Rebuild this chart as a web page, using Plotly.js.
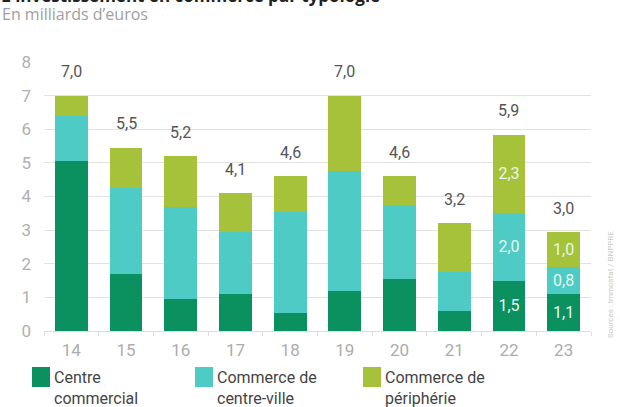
<!DOCTYPE html>
<html>
<head>
<meta charset="utf-8">
<script src="https://cdn.plot.ly/plotly-3.0.1.min.js"></script>
<style>html,body{margin:0;padding:0;background:#fff;}#chart{width:620px;height:407px;}</style>
</head>
<body>
<div id="chart"></div>
<script>
const years = ['14', '15', '16', '17', '18', '19', '20', '21', '22', '23'];
const centreCommercial = [5.05, 1.7, 0.95, 1.1, 0.55, 1.2, 1.55, 0.6, 1.5, 1.1];
const centreVille = [1.35, 2.55, 2.75, 1.85, 3.0, 3.55, 2.2, 1.15, 2.0, 0.8];
const peripherie = [0.6, 1.2, 1.5, 1.15, 1.05, 2.25, 0.85, 1.45, 2.34, 1.04];
const totals = [7.0, 5.5, 5.2, 4.1, 4.6, 7.0, 4.6, 3.2, 5.9, 3.0];
const labeledYears = ['22', '23'];
const seriesNames = ['Centre<br>commercial', 'Commerce de<br>centre-ville', 'Commerce de<br>périphérie'];
const colors = ['#0b9160', '#4fcbc5', '#a6c23a'];

const FONT = 'Roboto, "Open Sans", sans-serif';
const FONT2 = '"Open Sans", Roboto, sans-serif';
const fmt = v => v.toFixed(1).replace('.', ',');
const insideText = vals => vals.map((v, i) => labeledYears.includes(years[i]) ? fmt(v) : '');

const seriesVals = [centreCommercial, centreVille, peripherie];
const traces = seriesVals.map((vals, k) => ({
  type: 'bar',
  x: years,
  y: vals,
  name: seriesNames[k],
  marker: {color: colors[k], line: {width: 0}},
  text: insideText(vals),
  textposition: 'inside',
  insidetextanchor: 'middle',
  textangle: 0,
  constraintext: 'none',
  textfont: {family: FONT, size: 16, color: '#e6f7ee'},
  hoverinfo: 'skip',
  showlegend: false
}));

const stackTop = years.map((_, i) => centreCommercial[i] + centreVille[i] + peripherie[i]);

// plot area geometry helpers (paper coords)
const L = 44, R = 591, T = 62, B = 331, W = 620, H = 407;
const px = x => (x - L) / (R - L);
const py = y => 1 - (y - T) / (B - T);

// category axis: numeric-looking names are addressed by index for annotations
const annotations = years.map((yr, i) => ({
  x: i, y: stackTop[i], xref: 'x', yref: 'y',
  text: fmt(totals[i]), showarrow: false,
  yanchor: 'middle', yshift: 24,
  font: {family: FONT, size: 16, color: '#555555'}
}));

annotations.push({
  xref: 'paper', yref: 'paper', x: px(-1), y: py(-5), xanchor: 'left', yanchor: 'middle',
  text: "<b>L'investissement en commerce par typologie</b>", showarrow: false,
  font: {family: FONT2, size: 17, color: '#222222'}
});
annotations.push({
  xref: 'paper', yref: 'paper', x: px(0), y: py(14), xanchor: 'left', yanchor: 'middle',
  text: "En milliards d’euros", showarrow: false,
  font: {family: FONT2, size: 16, color: '#a0a0a0'}
});
annotations.push({
  xref: 'paper', yref: 'paper', x: px(610), y: py(285), xanchor: 'center', yanchor: 'middle',
  text: "Sources : Immostat / BNPPRE", showarrow: false, textangle: -90,
  font: {family: FONT, size: 8, color: '#c8c8c8'}
});

const legendX = [32, 195, 363];
const shapes = [];
seriesNames.forEach((n, k) => {
  shapes.push({type: 'rect', xref: 'paper', yref: 'paper',
    x0: px(legendX[k]), x1: px(legendX[k] + 18), y0: py(367), y1: py(387),
    fillcolor: colors[k], line: {width: 0}});
  annotations.push({
    xref: 'paper', yref: 'paper', x: px(legendX[k] + 20), y: py(388), xanchor: 'left', yanchor: 'middle',
    text: n, showarrow: false, align: 'left',
    font: {family: FONT, size: 16, color: '#444444'}
  });
});

const layout = {
  width: W, height: H,
  margin: {l: L, r: W - R, t: T, b: H - B, pad: 0},
  paper_bgcolor: '#ffffff', plot_bgcolor: '#ffffff',
  barmode: 'stack', bargap: 0.4,
  font: {family: FONT},
  xaxis: {
    type: 'category', range: [-0.5, years.length - 0.5],
    showgrid: false, zeroline: false,
    showline: true, linecolor: '#dddddd', linewidth: 1,
    ticks: 'outside', tickson: 'boundaries', ticklen: 4, tickcolor: '#dddddd',
    tickangle: 0,
    tickfont: {family: FONT, size: 17, color: '#acacac'},
    ticklabelstandoff: 4
  },
  yaxis: {
    range: [0, 8], dtick: 1, showgrid: true, gridcolor: '#e2e2e2', gridwidth: 1,
    zeroline: false, showline: false, ticks: '',
    tickfont: {family: FONT, size: 17, color: '#b0b0b0'},
    ticklabelstandoff: 12
  },
  annotations: annotations,
  shapes: shapes,
  showlegend: false
};

Plotly.newPlot('chart', traces, layout, {displayModeBar: false, staticPlot: true});
</script>
</body>
</html>
